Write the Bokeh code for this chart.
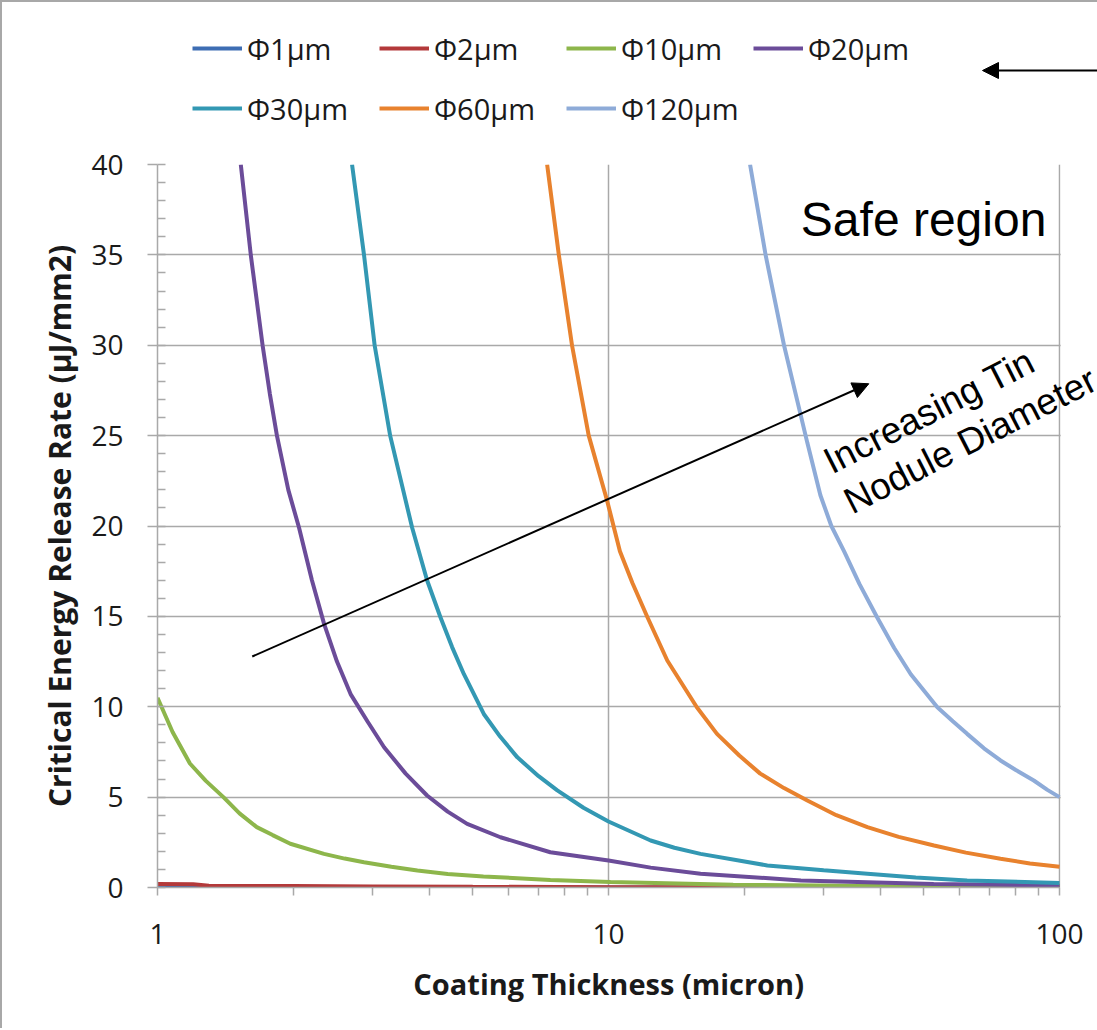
from bokeh.plotting import figure
from bokeh.layouts import column
from bokeh.models import (Legend, LegendItem, Arrow, NormalHead, Label, Range1d, Plot,
                          BoxAnnotation, FixedTicker, SingleIntervalTicker, NumeralTickFormatter)
from bokeh.embed import file_html
from bokeh.resources import INLINE

# ---- data (thickness in micron, G in uJ/mm2) ----
t_d1 = [1.0, 1.5, 2.0, 3.0, 5.0, 10.0, 20.0, 50.0, 100.0]
g_d1 = [0.05, 0.03, 0.02, 0.015, 0.01, 0.005, 0.003, 0.002, 0.001]

t_d2 = [1.0, 1.2, 1.3, 2.0, 3.0, 5.0, 10.0, 20.0, 50.0, 100.0]
g_d2 = [0.2, 0.18, 0.1, 0.08, 0.06, 0.04, 0.02, 0.01, 0.005, 0.002]

t_d10 = [1.0, 1.08, 1.18, 1.28, 1.40, 1.52, 1.66, 1.80, 1.97, 2.34, 2.60, 2.87, 3.30,
         3.77, 4.40, 5.28, 7.43, 10.1, 18.9, 40.0, 100.0]
g_d10 = [10.5, 8.6, 6.86, 5.9, 5.0, 4.1, 3.34, 2.9, 2.42, 1.86, 1.6, 1.40, 1.15,
         0.94, 0.75, 0.61, 0.42, 0.30, 0.15, 0.08, 0.05]

t_d20 = [1.53, 1.61, 1.71, 1.775, 1.84, 1.95, 2.06, 2.20, 2.34, 2.50, 2.68, 2.92, 3.18, 3.55,
         3.96, 4.40, 4.86, 5.76, 7.43, 10.0, 12.4, 16.0, 26.7, 52.6, 100.0]
g_d20 = [40, 35, 30, 27.3, 25, 22.0, 19.9, 17.0, 14.6, 12.5, 10.7, 9.2, 7.76, 6.3,
         5.09, 4.2, 3.52, 2.78, 1.95, 1.49, 1.1, 0.76, 0.39, 0.2, 0.1]

t_d30 = [2.70, 2.87, 3.03, 3.28, 3.67, 3.96, 4.24, 4.50, 4.78, 5.29, 5.75, 6.28, 7.00,
         7.70, 8.80, 10.0, 12.4, 14.0, 16.0, 22.5, 30.0, 37.5, 48.0, 62.4, 100.0]
g_d30 = [40, 35, 30, 25, 19.9, 17.0, 14.95, 13.3, 11.8, 9.6, 8.35, 7.2, 6.16,
         5.37, 4.41, 3.65, 2.6, 2.2, 1.86, 1.22, 0.95, 0.76, 0.55, 0.39, 0.25]

t_d60 = [7.31, 7.76, 8.30, 9.04, 9.93, 10.6, 11.3, 12.2, 13.5, 15.7, 17.4, 19.5, 21.7,
         24.5, 27.6, 32.0, 37.5, 44.0, 52.7, 62.0, 74.0, 86.0, 100.0]
g_d60 = [40, 35, 30, 25, 21.4, 18.6, 16.85, 14.95, 12.56, 9.97, 8.5, 7.3, 6.3,
         5.5, 4.81, 4.0, 3.34, 2.8, 2.32, 1.93, 1.59, 1.33, 1.15]

t_d120 = [20.6, 22.3, 24.5, 27.6, 29.5, 31.2, 33.3, 36.0, 39.4, 43.0, 46.8, 53.6, 58.0,
          62.4, 68.0, 74.0, 80.0, 87.7, 94.0, 100.0]
g_d120 = [40, 35, 30, 24.6, 21.7, 20.0, 18.6, 16.8, 14.95, 13.25, 11.8, 9.97, 9.2,
          8.5, 7.7, 7.03, 6.5, 5.92, 5.4, 5.0]

labels = ["Φ1μm", "Φ2μm", "Φ10μm", "Φ20μm", "Φ30μm", "Φ60μm", "Φ120μm"]
colors = ["#3d6db3", "#b3393a", "#8db64b", "#6b4c99", "#3398b3", "#e8822e", "#8eabd8"]
series_t = [t_d1, t_d2, t_d10, t_d20, t_d30, t_d60, t_d120]
series_g = [g_d1, g_d2, g_d10, g_d20, g_d30, g_d60, g_d120]

x_major = [1, 10, 100]
x_minor = [2, 3, 4, 5, 6, 7, 8, 9, 20, 30, 40, 50, 60, 70, 80, 90]

FONT = "Open Sans"
TXT = "#1a1a1a"
GRID = "#a9a9a9"

# ---------------- legend strip (top) ----------------
has_fa = "frame_align" in Plot.properties()
fx0 = 2 if has_fa else 157          # page x of the strip's frame left edge
top = figure(width=1095, height=142, x_range=Range1d(fx0, 1097), y_range=Range1d(1144, 1002),
             output_backend="svg", toolbar_location=None,
             x_axis_location=None, y_axis_location=None, min_border=0,
             background_fill_color="white", border_fill_color="white")
if has_fa:
    top.frame_align = False
top.outline_line_color = None
top.xgrid.visible = False
top.ygrid.visible = False

items = []
for lab, col, tt, gg in zip(labels, colors, series_t, series_g):
    r = top.line(tt, gg, line_color=col, line_width=4)   # outside this strip's view; legend only
    items.append(LegendItem(label=lab, renderers=[r]))

legend = Legend(items=items, location=(192 - fx0, 11), orientation="horizontal", ncols=4,
                glyph_width=50, glyph_height=50, label_height=50, label_width=122,
                label_standoff=5, spacing=10, padding=0, margin=0,
                border_line_color=None, background_fill_alpha=0,
                label_text_font=FONT, label_text_font_size="29px",
                label_text_color=TXT)
top.add_layout(legend)

top.add_layout(Arrow(end=NormalHead(size=16, fill_color="black", line_color="black"),
                     x_start=1110, y_start=1070, x_end=982, y_end=1070,
                     line_width=2, line_color="black"))

# ---------------- main chart ----------------
X_END = 10 ** (940 / 451)   # frame runs to the page edge; data axis ends at 100
p = figure(frame_width=940, frame_height=723, x_axis_type="log",
           x_range=Range1d(1, X_END), y_range=Range1d(0, 40),
           output_backend="svg", toolbar_location=None,
           min_border_left=155, min_border_top=20, min_border_right=0, min_border_bottom=141,
           background_fill_color="white", border_fill_color="white")
p.outline_line_color = None

p.xgrid.grid_line_color = GRID
p.ygrid.grid_line_color = GRID
p.xgrid.grid_line_width = 1.5
p.ygrid.grid_line_width = 1.5

p.xaxis.ticker = FixedTicker(ticks=x_major, minor_ticks=x_minor)
p.xgrid.ticker = FixedTicker(ticks=x_major)
p.xaxis.formatter = NumeralTickFormatter(format="0")
p.xaxis.bounds = (1, 100)
p.yaxis.ticker = SingleIntervalTicker(interval=5, num_minor_ticks=5)

# blank the strip right of x=100 (plot area ends there)
p.add_layout(BoxAnnotation(left=100.6, fill_color="white", fill_alpha=1.0,
                           line_alpha=0, level="underlay"))

for ax in (p.xaxis, p.yaxis):
    ax.axis_line_color = GRID
    ax.axis_line_width = 1.5
    ax.major_tick_line_color = GRID
    ax.minor_tick_line_color = GRID
    ax.major_tick_line_width = 1.5
    ax.minor_tick_line_width = 1.5
    ax.major_label_text_font = FONT
    ax.major_label_text_font_size = "28px"
    ax.major_label_text_color = TXT
    ax.axis_label_text_font = FONT
    ax.axis_label_text_font_style = "bold"
    ax.axis_label_text_color = TXT

p.xaxis.major_tick_in = 0
p.xaxis.major_tick_out = 8
p.xaxis.minor_tick_in = 0
p.xaxis.minor_tick_out = 8
p.xaxis.major_label_standoff = 28
# trailing no-break spaces keep the title centred under the 1-100 axis, not the wider frame
p.xaxis.axis_label = "Coating Thickness (micron)" + "\u00a0" * 5
p.xaxis.axis_label_standoff = 17
p.xaxis.axis_label_text_font_size = "29px"

p.yaxis.major_tick_in = 0
p.yaxis.major_tick_out = 10
p.yaxis.minor_tick_in = 8
p.yaxis.minor_tick_out = 0
p.yaxis.major_label_standoff = 24
p.yaxis.axis_label = "Critical Energy Release Rate (μJ/mm2)"
p.yaxis.axis_label_standoff = 8
p.yaxis.axis_label_text_font_size = "30px"

for col, tt, gg in zip(colors, series_t, series_g):
    p.line(tt, gg, line_color=col, line_width=4)

p.add_layout(Label(x=26.7, y=36.96, text="Safe region", text_font="Liberation Sans",
                   text_font_size="48px", text_baseline="alphabetic", text_color="black"))
p.add_layout(Label(x=30.4, y=23.46, text="Increasing Tin", text_font="Liberation Sans",
                   text_font_size="37px", text_baseline="alphabetic", angle=27,
                   angle_units="deg", text_color="black"))
p.add_layout(Label(x=33.7, y=21.24, text="Nodule Diameter", text_font="Liberation Sans",
                   text_font_size="37px", text_baseline="alphabetic", angle=27,
                   angle_units="deg", text_color="black"))

p.add_layout(Arrow(end=NormalHead(size=16, fill_color="black", line_color="black"),
                   x_start=1.622, y_start=12.78, x_end=37.77, y_end=27.87,
                   line_width=2, line_color="black"))

layout = column(top, p, spacing=0)
layout.styles = {"border-left": "2px solid #a8a8a8", "border-top": "2px solid #a8a8a8"}

open("out.html", "w").write(file_html(layout, INLINE))
